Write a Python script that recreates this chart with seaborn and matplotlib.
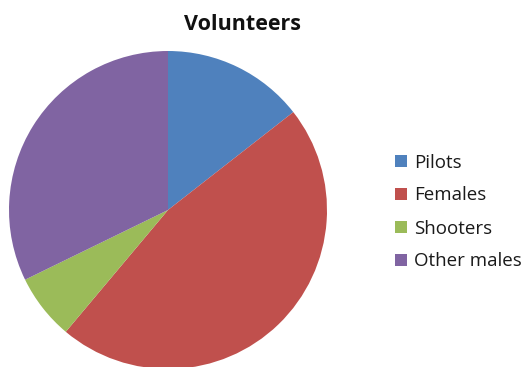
import matplotlib
matplotlib.use("Agg")
import matplotlib.pyplot as plt
import seaborn as sns
from matplotlib.patches import Patch

sns.set_theme(style="white")
plt.rcParams['font.family'] = ['Open Sans', 'DejaVu Sans']

categories = ["Pilots", "Females", "Shooters", "Other males"]
values = [13, 42, 6, 29]
colors = ["#4F81BD", "#C0504D", "#9BBB59", "#8064A2"]
title = "Volunteers"

W, H = 525, 367
fig = plt.figure(figsize=(W / 100, H / 100), dpi=100)
cx, cy, r = 168, 210, 159
ax = fig.add_axes([(cx - r) / W, (H - cy - r) / H, 2 * r / W, 2 * r / H])
ax.pie(values, colors=colors, startangle=90, counterclock=False,
       radius=1.0, wedgeprops=dict(linewidth=0))
ax.set_xlim(-1, 1)
ax.set_ylim(-1, 1)
ax.set_aspect("equal")
ax.axis("off")

fig.text(242 / W, 1 - 24 / H, title, ha="center", va="center",
         fontsize=15.5, fontweight="bold", color="#111111")

handles = [Patch(facecolor=c, edgecolor="none") for c in colors]
fig.legend(handles, categories, loc="center left",
           bbox_to_anchor=(395 / W, 1 - 212 / H), frameon=False,
           fontsize=13.5, handlelength=0.65, handleheight=0.65,
           handletextpad=0.35, labelspacing=0.8, borderaxespad=0,
           borderpad=0, labelcolor="#1a1a1a")

fig.savefig("out.png", dpi=100, facecolor="white")
